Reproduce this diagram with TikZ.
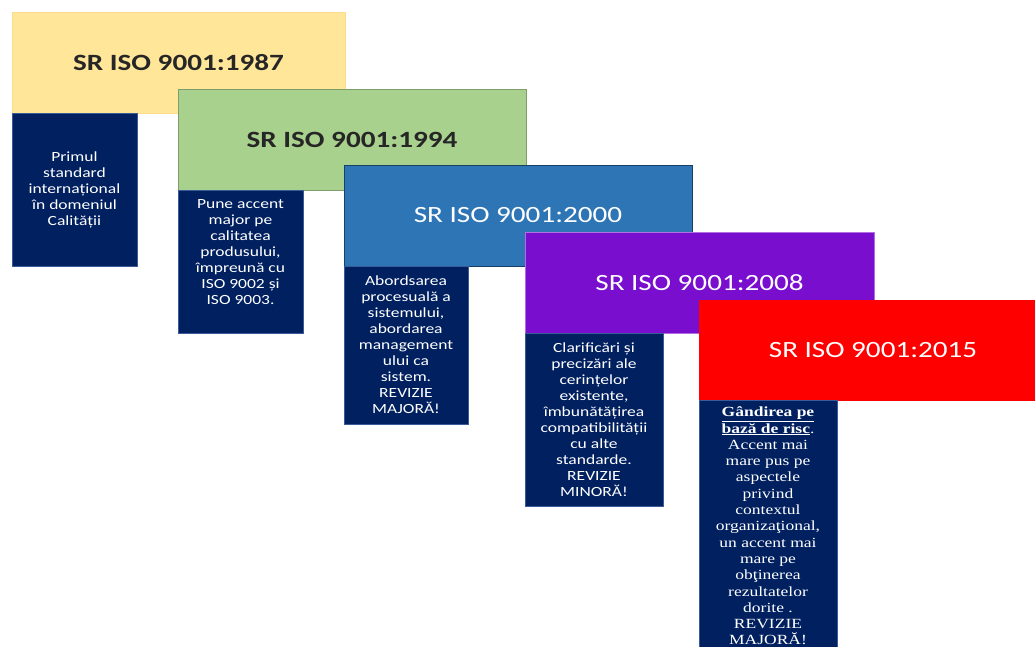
\documentclass[tikz,border=0pt]{standalone}
\usepackage{fontspec}
\usepackage{tikz}
\usetikzlibrary{positioning}

\newfontfamily\hdfont[FakeStretch=1.25]{Carlito}
\newfontfamily\bxfont[FakeStretch=1.25]{Carlito}
\newfontfamily\rmbxfont[FakeStretch=1.25]{Liberation Serif}

\definecolor{isoyellow}{HTML}{FFE699}
\definecolor{isogreen}{HTML}{A9D18E}
\definecolor{isoblue}{HTML}{2E75B6}
\definecolor{isopurple}{HTML}{7A0ECF}
\definecolor{isored}{HTML}{FF0000}
\definecolor{isonavy}{HTML}{002060}
\definecolor{navyedge}{HTML}{3A5A9A}
\definecolor{darktext}{HTML}{262626}

\begin{document}
\begin{tikzpicture}[
			x=1pt,y=-1pt,
			hdbox/.style={
				draw,
				line width=1pt,
				anchor=north west,
				outer sep=0pt,
				minimum width=348pt,
				minimum height=101pt,
				font=\hdfont\fontsize{23.3}{28}\selectfont
			},
			txbox/.style={
				draw=navyedge,
				fill=isonavy,
				text=white,
				line width=0.8pt,
				outer sep=0pt,
				inner sep=2pt,
				align=center,
				font=\bxfont\fontsize{14}{16}\selectfont
			}
			]
			
			\useasboundingbox (0,0) rectangle (1035,646);
			\clip (0,0) rectangle (1035,646);
			
			%%%%%%%%%%%%%%%%%%%%%%%%%%%%%%%%%%%%%%%%%%%%%%%%%%%%%%%%%%%%
			% 1987
			%%%%%%%%%%%%%%%%%%%%%%%%%%%%%%%%%%%%%%%%%%%%%%%%%%%%%%%%%%%%
			
			\node (y1987) [hdbox, draw=isoyellow!90!orange, fill=isoyellow,
			text=darktext, minimum width=333pt] at (12,12)
			{\bfseries SR ISO 9001:1987};
			
			\node (t1987) [txbox, below right=0pt and 0pt of y1987.south west,
			minimum width=125pt, minimum height=153pt]
			{Primul\\standard\\internațional\\în domeniul\\Calității};
			
			%%%%%%%%%%%%%%%%%%%%%%%%%%%%%%%%%%%%%%%%%%%%%%%%%%%%%%%%%%%%
			% 1994
			%%%%%%%%%%%%%%%%%%%%%%%%%%%%%%%%%%%%%%%%%%%%%%%%%%%%%%%%%%%%
			
			\node (y1994) [hdbox, draw=isogreen!75!black, fill=isogreen,
			text=darktext] at (178,89)
			{\bfseries SR ISO 9001:1994};
			
			\node (t1994) [txbox, below right=0pt and 0pt of y1994.south west,
			minimum width=125pt, minimum height=143pt]
			{Pune accent\\major pe\\calitatea\\produsului,\\împreună cu\\ISO 9002 și\\ISO 9003.\\[3pt]\mbox{}};
			
			%%%%%%%%%%%%%%%%%%%%%%%%%%%%%%%%%%%%%%%%%%%%%%%%%%%%%%%%%%%%
			% 2000
			%%%%%%%%%%%%%%%%%%%%%%%%%%%%%%%%%%%%%%%%%%%%%%%%%%%%%%%%%%%%
			
			\node (y2000) [hdbox, draw=isoblue!55!black, fill=isoblue,
			text=white] at (344,165)
			{SR ISO 9001:2000};
			
			\node (t2000) [txbox, below right=0pt and 0pt of y2000.south west,
			minimum width=124pt, minimum height=158pt]
			{Abordsarea\\procesuală a\\sistemului,\\abordarea\\management\\ului ca\\sistem.\\REVIZIE\\MAJORĂ!};
			
			%%%%%%%%%%%%%%%%%%%%%%%%%%%%%%%%%%%%%%%%%%%%%%%%%%%%%%%%%%%%
			% 2008
			%%%%%%%%%%%%%%%%%%%%%%%%%%%%%%%%%%%%%%%%%%%%%%%%%%%%%%%%%%%%
			
			\node (y2008) [hdbox, draw=isopurple!60!white, fill=isopurple,
			text=white, minimum width=349pt] at (525,232)
			{SR ISO 9001:2008};
			
			\node (t2008) [txbox, below right=0pt and 0pt of y2008.south west,
			minimum width=138pt, minimum height=173pt]
			{Clarificări și\\precizări ale\\cerințelor\\existente,\\îmbunătățirea\\compatibilității\\cu alte\\standarde.\\REVIZIE\\MINORĂ!};
			
			%%%%%%%%%%%%%%%%%%%%%%%%%%%%%%%%%%%%%%%%%%%%%%%%%%%%%%%%%%%%
			% 2015
			%%%%%%%%%%%%%%%%%%%%%%%%%%%%%%%%%%%%%%%%%%%%%%%%%%%%%%%%%%%%
			
			\node (y2015) [hdbox, draw=isored, fill=isored,
			text=white, minimum height=100pt] at (699,300)
			{SR ISO 9001:2015};
			
			\node (t2015) [txbox, below right=0pt and 0pt of y2015.south west,
			minimum width=138pt, minimum height=252pt,
			font=\rmbxfont\fontsize{14}{16.3}\selectfont]
			{\textbf{\underline{Gândirea pe}}\\\textbf{\underline{bază de risc}}.\\Accent mai\\mare pus pe\\aspectele\\privind\\contextul\\organizaţional,\\un accent mai\\mare pe\\obţinerea\\rezultatelor\\dorite .\\REVIZIE\\MAJORĂ!};
			
		\end{tikzpicture}
\end{document}
